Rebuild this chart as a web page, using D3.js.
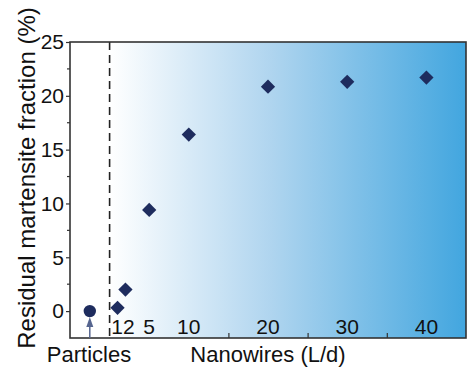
<!DOCTYPE html>
<html>
<head>
<meta charset="utf-8">
<script src="https://cdn.jsdelivr.net/npm/d3@7"></script>
<style>
  body { margin: 0; background: #fff; }
  text { font-family: "Liberation Sans", Arial, sans-serif; fill: #111; }
</style>
</head>
<body>
<div id="chart"></div>
<script>
// data
const aspectRatios = [1, 2, 5, 10, 20, 30, 40];
const residual = [0.3, 2.0, 9.4, 16.4, 20.85, 21.3, 21.7];
const particleX = [-2.5];
const particleY = [0];
// "1" and "2" sit so close they read as one label
const xTickGroups = [[1, 2], [5], [10], [20], [30], [40]];
const xMinorTicks = [15, 25, 35];
const yTicks = [0, 5, 10, 15, 20, 25];
const yMinorTicks = [2.5, 7.5, 12.5, 17.5, 22.5];

const W = 469, H = 370;
const m = { left: 70, right: 3, top: 42, bottom: 32 };

const svg = d3.select("#chart").append("svg")
  .attr("width", W).attr("height", H);

const x = d3.scaleLinear().domain([-5, 45]).range([m.left, W - m.right]);
const y = d3.scaleLinear().domain([-2.5, 25]).range([H - m.bottom, m.top]);

const defs = svg.append("defs");
const grad = defs.append("linearGradient").attr("id", "bg")
  .attr("gradientUnits", "userSpaceOnUse")
  .attr("x1", x(0)).attr("x2", x(45)).attr("y1", 0).attr("y2", 0);
grad.append("stop").attr("offset", "0%").attr("stop-color", "#ffffff");
grad.append("stop").attr("offset", "45%").attr("stop-color", "#b0d5ef");
grad.append("stop").attr("offset", "100%").attr("stop-color", "#42a6df");

// shaded nanowire region
svg.append("rect")
  .attr("x", x(0)).attr("y", y(25))
  .attr("width", x(45) - x(0)).attr("height", y(-2.5) - y(25))
  .attr("fill", "url(#bg)");

// divider
svg.append("line")
  .attr("x1", x(0)).attr("x2", x(0))
  .attr("y1", y(25)).attr("y2", y(-2.5))
  .attr("stroke", "#222").attr("stroke-width", 1.6)
  .attr("stroke-dasharray", "8,5");

// frame
svg.append("rect")
  .attr("x", x(-5)).attr("y", y(25))
  .attr("width", x(45) - x(-5)).attr("height", y(-2.5) - y(25))
  .attr("fill", "none").attr("stroke", "#333").attr("stroke-width", 1.6);

// y axis
const yAxis = svg.append("g")
  .attr("transform", `translate(${m.left},0)`)
  .call(d3.axisLeft(y).tickValues(yTicks).tickSize(4).tickPadding(2));
yAxis.select(".domain").remove();
yAxis.selectAll("line").attr("stroke", "#333").attr("stroke-width", 1.2);
yAxis.selectAll("text").style("font-size", "21px")
  .style("font-family", "Liberation Sans, Arial, sans-serif").attr("fill", "#111");

svg.append("g").selectAll("line")
  .data(yMinorTicks).enter().append("line")
  .attr("x1", m.left - 3).attr("x2", m.left)
  .attr("y1", d => y(d)).attr("y2", d => y(d))
  .attr("stroke", "#333").attr("stroke-width", 1.2);

// x minor ticks pointing inward
const xAxis = svg.append("g")
  .attr("transform", `translate(0,${y(-2.5)})`)
  .call(d3.axisTop(x).tickValues(xMinorTicks).tickSize(5).tickFormat(""));
xAxis.select(".domain").remove();
xAxis.selectAll("line").attr("stroke", "#333").attr("stroke-width", 1.2);

// x labels inside the plot
svg.append("g").selectAll("text")
  .data(xTickGroups).enter().append("text")
  .attr("x", g => d3.mean(g, x) + (g.length > 1 ? 1.5 : 0))
  .attr("y", y(-2.5) - 4)
  .attr("text-anchor", "middle")
  .style("font-size", "21px")
  .text(g => g.join(""));

// points
svg.append("g").selectAll("path")
  .data(aspectRatios).enter().append("path")
  .attr("d", d3.symbol().type(d3.symbolDiamond2).size(130))
  .attr("transform", (d, i) => `translate(${x(d)},${y(residual[i])})`)
  .attr("fill", "#1e2c5e");

svg.append("g").selectAll("circle")
  .data(particleX).enter().append("circle")
  .attr("cx", d => x(d))
  .attr("cy", (d, i) => y(particleY[i]))
  .attr("r", 6.2)
  .attr("fill", "#1e2c5e");

// arrow to particle
const ax = x(particleX[0]);
svg.append("line")
  .attr("x1", ax).attr("x2", ax)
  .attr("y1", y(-2.5)).attr("y2", y(-1.2))
  .attr("stroke", "#56658f").attr("stroke-width", 1.5);
svg.append("path")
  .attr("d", `M${ax},${y(-1.2) - 7} L${ax - 3.5},${y(-1.2) + 3} L${ax + 3.5},${y(-1.2) + 3} Z`)
  .attr("fill", "#56658f");

// titles
svg.append("text")
  .attr("x", 89).attr("y", 362)
  .attr("text-anchor", "middle")
  .style("font-size", "22px")
  .text("Particles");

svg.append("text")
  .attr("x", 268).attr("y", 362)
  .attr("text-anchor", "middle")
  .style("font-size", "22px")
  .text("Nanowires (L/d)");

svg.append("text")
  .attr("transform", `translate(35,178) rotate(-90)`)
  .attr("text-anchor", "middle")
  .style("font-size", "24px")
  .text("Residual martensite fraction (%)");
</script>
</body>
</html>
